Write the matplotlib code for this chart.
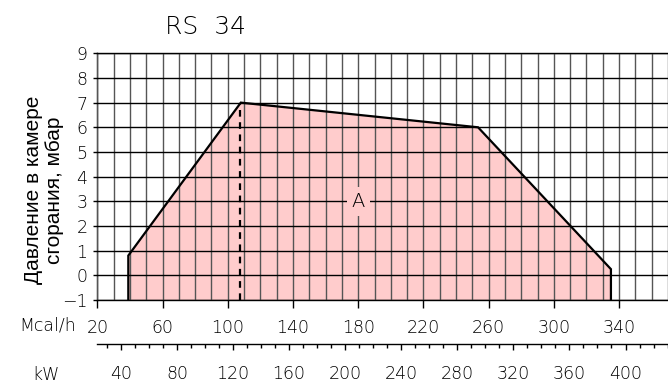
import matplotlib
matplotlib.use("Agg")
import matplotlib.pyplot as plt
import numpy as np

# working field of the burner
power_mcal = [39, 39, 108, 253.5, 335, 335]
pressure_mbar = [-1, 0.8, 7, 6, 0.25, -1]
rated_mcal = 107.5
rated_top = 7

mcal_ticks = list(range(20, 341, 40))
kw_ticks = list(range(40, 401, 40))
y_ticks = list(range(-1, 10))
KW_PER_MCAL = 1.163

light = dict(family=["DejaVu Sans"], weight="light", color="black")

fig = plt.figure(figsize=(6.68, 3.85), dpi=100)
ax = fig.add_axes([0.1457, 0.2208, 0.8543, 0.6408])

ax.fill(power_mcal, pressure_mbar, color="#ffcccc", zorder=1, lw=0)
ax.plot(power_mcal, pressure_mbar, color="black", lw=1.6, zorder=4,
        solid_joinstyle="miter")
ax.plot([rated_mcal, rated_mcal], [-1, rated_top], color="black", lw=1.6,
        ls=(0, (3, 2.5)), zorder=4)
ax.text(180, 3, "A", ha="center", va="center", fontsize=14, zorder=5,
        bbox=dict(boxstyle="square,pad=0.25", fc="#ffcccc", ec="none"), **light)

ax.set_xlim(20, 369)
ax.set_ylim(-1, 9)

ax.set_xticks(mcal_ticks)
ax.set_xticks(range(20, 371, 10), minor=True)
ax.set_yticks(y_ticks)
ax.set_xticklabels([str(v) for v in mcal_ticks], fontsize=12.5, **light)
ax.set_yticklabels(["\u2212" + str(-v) if v < 0 else str(v) for v in y_ticks],
                   fontsize=12.5, **light)

ax.set_axisbelow(False)
ax.grid(which="both", axis="x", color="#555555", lw=1.0, zorder=2)
ax.grid(which="major", axis="y", color="black", lw=1.0, zorder=2)
ax.tick_params(axis="x", which="major", direction="out", length=6, width=1,
               pad=8)
ax.tick_params(axis="x", which="minor", length=0)
ax.tick_params(axis="y", direction="out", length=3, width=1, pad=4)
ax.spines["right"].set_visible(False)
for s in ("top", "left", "bottom"):
    ax.spines[s].set_linewidth(1.0)

sec = ax.secondary_xaxis(-0.178, functions=(lambda x: x * KW_PER_MCAL,
                                            lambda x: x / KW_PER_MCAL))
sec.set_xticks(kw_ticks)
sec.set_xticks(range(30, 431, 10), minor=True)
sec.set_xticklabels([str(v) for v in kw_ticks], fontsize=12.5, **light)
sec.tick_params(which="major", direction="out", length=4.5, width=1, pad=11)
sec.tick_params(which="minor", direction="out", length=3, width=1)
sec.spines["bottom"].set_linewidth(1.0)

fig.text(0.307, 0.93, "RS  34", ha="center", va="center", fontsize=18, **light)
fig.text(0.072, 0.155, "Mcal/h", ha="center", va="center", fontsize=12.5, **light)
fig.text(0.068, 0.027, "kW", ha="center", va="center", fontsize=12.5, **light)
fig.text(0.066, 0.506, "Давление в камере\nсгорания, мбар", rotation=90,
         ha="center", va="center", multialignment="center", fontsize=15,
         family=["Liberation Sans", "DejaVu Sans"], weight="normal",
         linespacing=1.15)

fig.savefig("out.png", dpi=100)
